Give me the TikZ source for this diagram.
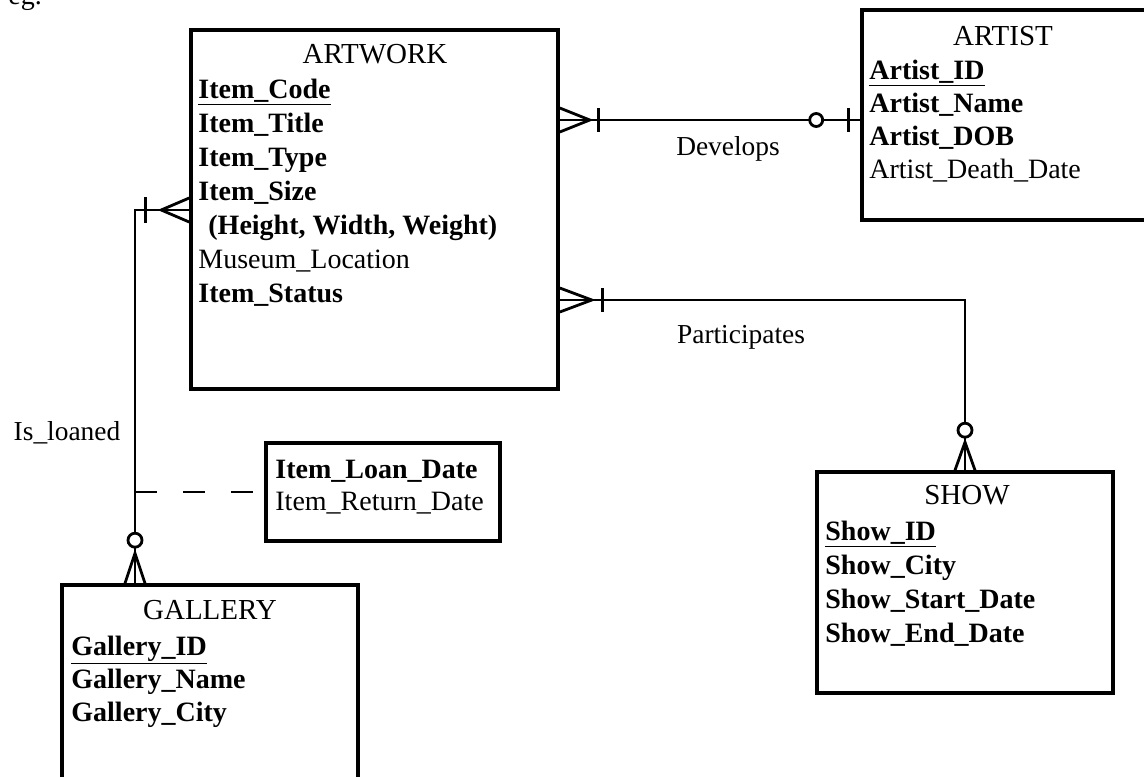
\documentclass[tikz,border=0pt]{standalone}
\usepackage{fontspec}
\setmainfont{Liberation Serif}

\begin{document}
\begin{tikzpicture}[x=0.5pt,y=-0.5pt]

	\tikzset{entity/.style = {shape=rectangle,draw,line width=1.8pt,inner sep=0pt}}
	\tikzset{attr/.style = {anchor=base west,inner sep=0pt,font=\fontsize{14}{17}\selectfont}}
	\tikzset{heading/.style = {anchor=base,inner sep=0pt,font=\fontsize{14.5}{17}\selectfont}}
	\tikzset{label/.style = {anchor=base,inner sep=0pt,font=\fontsize{13.7}{17}\selectfont}}
	\tikzset{rel/.style = {line width=1.4pt}}
	\useasboundingbox (0,0) rectangle (1144,776);
	\node[attr] (eg) at (8,4) {eg.};
	% entities
	\node[entity,minimum width=183.5pt,minimum height=179.5pt] (artwork) at (374.5,209.5) {};
	\node[entity,minimum width=144pt,minimum height=105pt] (artist) at (1006,115) {};
	\node[entity,minimum width=148pt,minimum height=110.5pt] (show) at (965,582.5) {};
	\node[entity,minimum width=148pt,minimum height=107.5pt] (gallery) at (210,692.5) {};
	\node[entity,minimum width=117pt,minimum height=49pt] (loaninfo) at (383,492) {};
	% headings and attributes
	\node[heading] (artwork-h) at (375,63) {ARTWORK};
	\foreach \t [count=\i] in {\textbf{\underline{Item\_Code}},\textbf{Item\_Title},\textbf{Item\_Type},\textbf{Item\_Size},{\hspace{5pt}\textbf{(Height, Width, Weight)}},Museum\_Location,\textbf{Item\_Status}}
		\node[attr] (artwork-\i) at (198,64+34*\i) {\t};
	\node[heading] (artist-h) at (1003,45) {ARTIST};
	\foreach \t [count=\i] in {\textbf{\underline{Artist\_ID}},\textbf{Artist\_Name},\textbf{Artist\_DOB},Artist\_Death\_Date}
		\node[attr] (artist-\i) at (869,46+33*\i) {\t};
	\node[heading] (show-h) at (967,504) {SHOW};
	\foreach \t [count=\i] in {\textbf{\underline{Show\_ID}},\textbf{Show\_City},\textbf{Show\_Start\_Date},\textbf{Show\_End\_Date}}
		\node[attr] (show-\i) at (825,506+34*\i) {\t};
	\node[heading] (gallery-h) at (210,619) {GALLERY};
	\foreach \t [count=\i] in {\textbf{\underline{Gallery\_ID}},\textbf{Gallery\_Name},\textbf{Gallery\_City}}
		\node[attr] (gallery-\i) at (71,622+33*\i) {\t};
	\node[attr] (loaninfo-1) at (275,478) {\textbf{Item\_Loan\_Date}};
	\node[attr] (loaninfo-2) at (275,510) {Item\_Return\_Date};
	% relationship labels
	\node[label] (develops) at (728,155) {Develops};
	\node[label] (participates) at (741,343) {Participates};
	\node[label] (isloaned) at (67,440) {Is\_loaned};
	%edges
	\coordinate (dev) at (700,120);
	\coordinate (part) at (965,300);
	\coordinate (loan) at (135,210);
	% Develops
	\draw[rel] (artwork.east |- dev) -- (artist.west |- dev);
	\draw[rel] (artwork.east |- dev) ++(0,-12) -- ++(30,12) -- ++(-30,12);
	\draw[rel] (artwork.east |- dev) ++(39,-12) -- ++(0,24);
	\draw[rel,fill=white] (artist.west |- dev) ++(-44,0) circle (6.5);
	\draw[rel] (artist.west |- dev) ++(-12,-12) -- ++(0,24);
	% Participates
	\draw[rel] (artwork.east |- part) -- (part) -- (show.north -| part);
	\draw[rel] (artwork.east |- part) ++(0,-12) -- ++(32,12) -- ++(-32,12);
	\draw[rel] (artwork.east |- part) ++(43,-12) -- ++(0,24);
	\draw[rel,fill=white] (show.north -| part) ++(0,-40) circle (7);
	\draw[rel] (show.north -| part) ++(-10,0) -- ++(10,-28) -- ++(10,28);
	% Is_loaned
	\draw[rel] (artwork.west |- loan) -- (loan) -- (gallery.north -| loan);
	\draw[rel] (artwork.west |- loan) ++(0,-12) -- ++(-28,12) -- ++(28,12);
	\draw[rel] (artwork.west |- loan) ++(-44,-13) -- ++(0,26);
	\draw[rel,fill=white] (gallery.north -| loan) ++(0,-43) circle (7);
	\draw[rel] (gallery.north -| loan) ++(-10,0) -- ++(10,-30) -- ++(10,30);
	\draw[rel,dash pattern=on 11pt off 13pt] (loan |- loaninfo.west) -- (loaninfo.west);
\end{tikzpicture}
\end{document}
